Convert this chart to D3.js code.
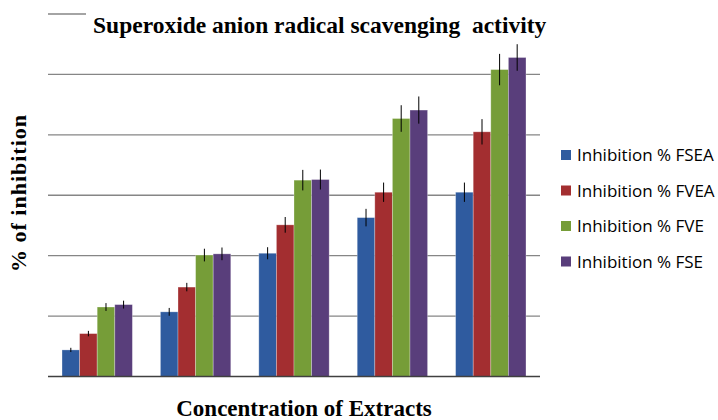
<!DOCTYPE html>
<html>
<head>
<meta charset="utf-8">
<script src="https://cdn.jsdelivr.net/npm/d3@7"></script>
<style>
  body { margin: 0; background: #fff; }
</style>
</head>
<body>
<div id="chart"></div>
<script>
// Chart data
var concentrations = ["20", "40", "60", "80", "100"];
var seriesNames = ["Inhibition % FSEA", "Inhibition % FVEA", "Inhibition % FVE", "Inhibition % FSE"];
var fsea = [4.4, 10.7, 20.4, 26.3, 30.5];
var fvea = [7.1, 14.8, 25.1, 30.5, 40.5];
var fve = [11.5, 20.1, 32.5, 42.7, 50.8];
var fse = [11.9, 20.3, 32.6, 44.1, 52.8];
var fseaErr = [0.35, 0.65, 1.0, 1.45, 1.6];
var fveaErr = [0.45, 0.7, 1.3, 1.6, 2.1];
var fveErr = [0.65, 1.05, 1.7, 2.2, 2.6];
var fseErr = [0.65, 1.05, 1.65, 2.25, 2.2];
var yTicks = [0, 10, 20, 30, 40, 50, 60];
var colors = ["#2f5b9f", "#a32e30", "#769d38", "#593e7b"];

var values = [fsea, fvea, fve, fse];
var errors = [fseaErr, fveaErr, fveErr, fseErr];

// Size
var width = 718;
var height = 420;
var plotLeft = 48;
var plotRight = 540;
var plotTop = 14;
var plotBottom = 376.5;
var serif = "'Liberation Serif', 'Times New Roman', serif";

var svg = d3.select("#chart")
    .append("svg")
    .attr("width", width)
    .attr("height", height);

// Scales
var x0 = d3.scaleBand()
    .domain(concentrations)
    .range([plotLeft, plotRight])
    .paddingInner(0.285)
    .paddingOuter(0.1425);
var x1 = d3.scaleBand()
    .domain(d3.range(seriesNames.length))
    .range([0, x0.bandwidth()]);
var y = d3.scaleLinear()
    .domain([0, 60])
    .range([plotBottom, plotTop]);

// Gridlines
svg.append("g")
    .selectAll("line")
    .data(yTicks.slice(1))
    .enter()
    .append("line")
    .attr("x1", plotLeft)
    .attr("x2", plotRight)
    .attr("y1", function(d) { return y(d); })
    .attr("y2", function(d) { return y(d); })
    .attr("stroke", "#868686")
    .attr("stroke-width", 1.3);

// Bars
var rows = [];
concentrations.forEach(function(c, i) {
    seriesNames.forEach(function(s, j) {
        rows.push({ cat: c, s: j, v: values[j][i], e: errors[j][i] });
    });
});

svg.append("g")
    .selectAll("rect")
    .data(rows)
    .enter()
    .append("rect")
    .attr("x", function(d) { return x0(d.cat) + x1(d.s); })
    .attr("y", function(d) { return y(d.v); })
    .attr("width", x1.bandwidth())
    .attr("height", function(d) { return y(0) - y(d.v); })
    .attr("fill", function(d) { return colors[d.s]; })
    .attr("stroke", "rgba(255,255,255,0.35)")
    .attr("stroke-width", 0.8);

// Error bars
svg.append("g")
    .selectAll("line")
    .data(rows)
    .enter()
    .append("line")
    .attr("x1", function(d) { return x0(d.cat) + x1(d.s) + x1.bandwidth() / 2; })
    .attr("x2", function(d) { return x0(d.cat) + x1(d.s) + x1.bandwidth() / 2; })
    .attr("y1", function(d) { return y(d.v + d.e); })
    .attr("y2", function(d) { return y(d.v - d.e); })
    .attr("stroke", "#000")
    .attr("stroke-width", 1);

// Baseline
svg.append("line")
    .attr("x1", plotLeft)
    .attr("x2", plotRight)
    .attr("y1", y(0))
    .attr("y2", y(0))
    .attr("stroke", "#404040")
    .attr("stroke-width", 1.3);

// Title box covers the top gridline
svg.append("rect")
    .attr("x", 86)
    .attr("y", 4)
    .attr("width", 480)
    .attr("height", 36)
    .attr("fill", "#fff");
svg.append("text")
    .attr("x", 93)
    .attr("y", 33)
    .attr("font-family", serif)
    .attr("font-weight", "bold")
    .attr("font-size", 23.5)
    .style("white-space", "pre")
    .text("Superoxide anion radical scavenging  activity");

// Axis titles
svg.append("text")
    .attr("transform", "translate(26,193)rotate(-90)")
    .attr("text-anchor", "middle")
    .attr("font-family", serif)
    .attr("font-weight", "bold")
    .attr("font-size", 22)
    .attr("letter-spacing", 1)
    .text("% of inhibition");
svg.append("text")
    .attr("x", 304)
    .attr("y", 416)
    .attr("text-anchor", "middle")
    .attr("font-family", serif)
    .attr("font-weight", "bold")
    .attr("font-size", 23)
    .text("Concentration of Extracts");

// Legend
var legend = svg.append("g")
    .selectAll("g")
    .data(seriesNames)
    .enter()
    .append("g")
    .attr("transform", function(d, i) { return "translate(561," + (155 + i * 35.5) + ")"; });
legend.append("rect")
    .attr("x", 0)
    .attr("y", -5)
    .attr("width", 10)
    .attr("height", 10)
    .attr("fill", function(d, i) { return colors[i]; });
legend.append("text")
    .attr("x", 16)
    .attr("y", 6)
    .attr("font-family", "'Open Sans', 'Liberation Sans', sans-serif")
    .attr("font-size", 17)
    .attr("fill", "#000")
    .text(function(d) { return d; });
</script>
</body>
</html>
